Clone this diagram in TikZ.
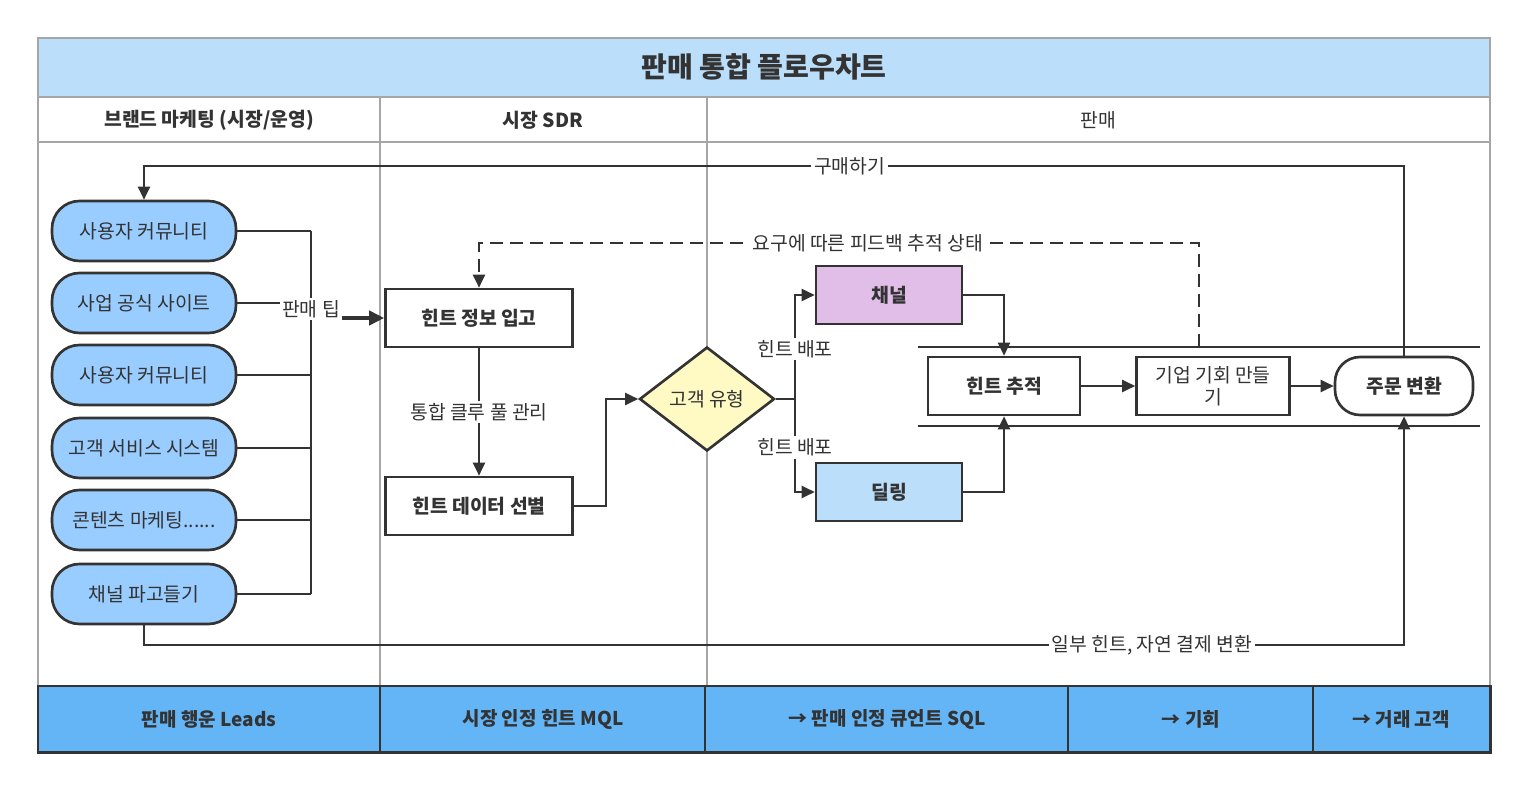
\documentclass[tikz,border=0pt]{standalone}
\usepackage{fontspec}
\setmainfont{Noto Sans CJK KR}
\usepackage{tikz}
\usetikzlibrary{arrows.meta,positioning,calc,shapes.geometric}
\definecolor{inkD}{HTML}{333333}
\definecolor{laneG}{HTML}{A6A6A6}
\definecolor{titleB}{HTML}{BBDEFA}
\definecolor{pillB}{HTML}{99CCFF}
\definecolor{stageB}{HTML}{64B5F6}
\definecolor{decY}{HTML}{FFF9C4}
\definecolor{chanP}{HTML}{E1BEE7}
\definecolor{dealB}{HTML}{BBDEFB}
\tikzset{
  pill/.style={rectangle, rounded corners=0.55cm, draw=inkD, line width=1.5pt, fill=pillB,
               align=center, font=\fontsize{11}{12.5}\selectfont, text=inkD,
               minimum width=3.68cm, minimum height=1.2cm, inner sep=1pt},
  boxn/.style={rectangle, draw=inkD, line width=1.5pt, fill=#1, align=center,
               font=\fontsize{11}{12.5}\selectfont\bfseries, text=inkD,
               minimum height=1.16cm, inner sep=1pt},
  boxn/.default=white,
  decide/.style={diamond, draw=inkD, line width=1.5pt, fill=decY, text=inkD,
                 font=\fontsize{11}{12.5}\selectfont, minimum width=2.7cm,
                 minimum height=2.08cm, inner sep=0pt},
  lbl/.style={fill=white, text=inkD, font=\fontsize{11}{12.5}\selectfont, inner sep=1.5pt},
  line/.style={draw=inkD, line width=1.3pt},
  arr/.style={line, -{Triangle[length=2.6mm, width=2.4mm]}},
  bigarr/.style={draw=inkD, line width=2.3pt, -{Triangle[length=3mm, width=2.8mm]}},
  head/.style={text=inkD, font=\fontsize{11}{12.5}\selectfont\bfseries},
  stage/.style={text=inkD, font=\fontsize{10.8}{12.5}\selectfont\bfseries},
}
\begin{document}
\begin{tikzpicture}[x=0.02cm, y=-0.02cm]
  \useasboundingbox (0,0) rectangle (1527,790);
  % lanes
  \fill[titleB] (38,38) rectangle (1490,97);
  \draw[laneG, line width=1.3pt] (38,38) rectangle (1490,752);
  \draw[laneG, line width=1.3pt] (38,97) -- (1490,97) (38,142) -- (1490,142);
  \draw[laneG, line width=1.3pt] (380,97) -- (380,686) (707,97) -- (707,686);
  \node[text=inkD, font=\fontsize{16}{18}\selectfont\bfseries] (title) at (764,67) {판매 통합 플로우차트};
  \node[head] (h1) at (209,120) {브랜드 마케팅 (시장/운영)};
  \node[head] (h2) at (543,120) {시장 SDR};
  \node[head, font=\fontsize{11}{12.5}\selectfont] (h3) at (1098,120) {판매};
  % stage band
  \draw[inkD, line width=1.7pt, fill=stageB] (38,686) rectangle (1490,752);
  \foreach \xd in {380,705,1068,1313}
    \draw[inkD, line width=1.5pt] (\xd,686) -- (\xd,752);
  \node[stage] (s1) at (209,719) {판매 행운 Leads};
  \node[stage] (s2) at (543,719) {시장 인정 힌트 MQL};
  \node[stage] (s3) at (887,719) {→ 판매 인정 큐언트 SQL};
  \node[stage] (s4) at (1191,719) {→ 기회};
  \node[stage] (s5) at (1401,719) {→ 거래 고객};

  % sources
  \node[pill] (u1) at (144,231) {사용자 커뮤니티};
  \node[pill] (u2) at (144,303) {사업 공식 사이트};
  \node[pill] (u3) at (144,375) {사용자 커뮤니티};
  \node[pill] (u4) at (144,448) {고객 서비스 시스템};
  \node[pill] (u5) at (144,520) {콘텐츠 마케팅......};
  \node[pill] (u6) at (144,594) {채널 파고들기};
  \coordinate (bus) at (311,318);
  \foreach \i in {1,...,6}
    \draw[line] (u\i.east) -- (u\i.east -| bus);
  \draw[line] (u1.east -| bus) -- (u6.east -| bus);

  % SDR
  \node[boxn, minimum width=3.74cm] (hin) at (479,318) {힌트 정보 입고};
  \node[boxn, minimum width=3.74cm] (sel) at (479,506) {힌트 데이터 선별};
  \draw[bigarr] (bus) -- (hin.west);
  \node[lbl] (tip) at (311,309) {판매 팁};
  \draw[arr] (hin.south) -- node[lbl]{통합 클루 풀 관리} (sel.north);
  \node[decide] (cust) at (707,399) {고객 유형};
  \draw[arr] (sel.east) -- ++(32,0) |- (cust.west);

  % sales
  \node[boxn=chanP, minimum width=2.92cm] (chan) at (889,295) {채널};
  \node[boxn=dealB, minimum width=2.92cm] (deal) at (889,492) {딜링};
  \coordinate (split) at (795,399);
  \draw[line] (cust.east) -- (split);
  \draw[arr] (split) |- node[lbl, pos=0.24]{힌트 배포} (chan.west);
  \draw[arr] (split) |- node[lbl, pos=0.26]{힌트 배포} (deal.west);

  \draw[inkD, line width=1.7pt] (918,347) -- (1480,347) (918,426) -- (1480,426);
  \node[boxn, minimum width=3.04cm] (trk) at (1004,386) {힌트 추적};
  \node[boxn, minimum width=3.06cm, font=\fontsize{11}{12.5}\selectfont] (opp) at (1213,386) {기업 기회 만들\\기};
  \node[boxn, rounded corners=0.5cm, minimum width=2.76cm] (ord) at (1404,386) {주문 변환};
  \draw[arr] (chan.east) -| (trk.north);
  \draw[arr] (deal.east) -| (trk.south);
  \draw[arr] (trk) -- (opp);
  \draw[arr] (opp) -- (ord);

  % loops back
  \coordinate (fbS) at (1199,347);
  \coordinate (fbL) at (479,243);
  \draw[arr, dash pattern=on 2.6mm off 1.4mm] (fbS) |- node[lbl, pos=0.73]{요구에 따른 피드백 추적 상태} (fbL) -- (hin.north);
  \coordinate (buyL) at (144,166);
  \draw[arr] (ord.north) |- node[lbl, pos=0.72]{구매하기} (buyL) -- (u1.north);
  \coordinate (payR) at (1404,645);
  \draw[arr] (u6.south) |- node[lbl, pos=0.9]{일부 힌트, 자연 결제 변환} (payR) -- (ord.south);
\end{tikzpicture}
\end{document}
